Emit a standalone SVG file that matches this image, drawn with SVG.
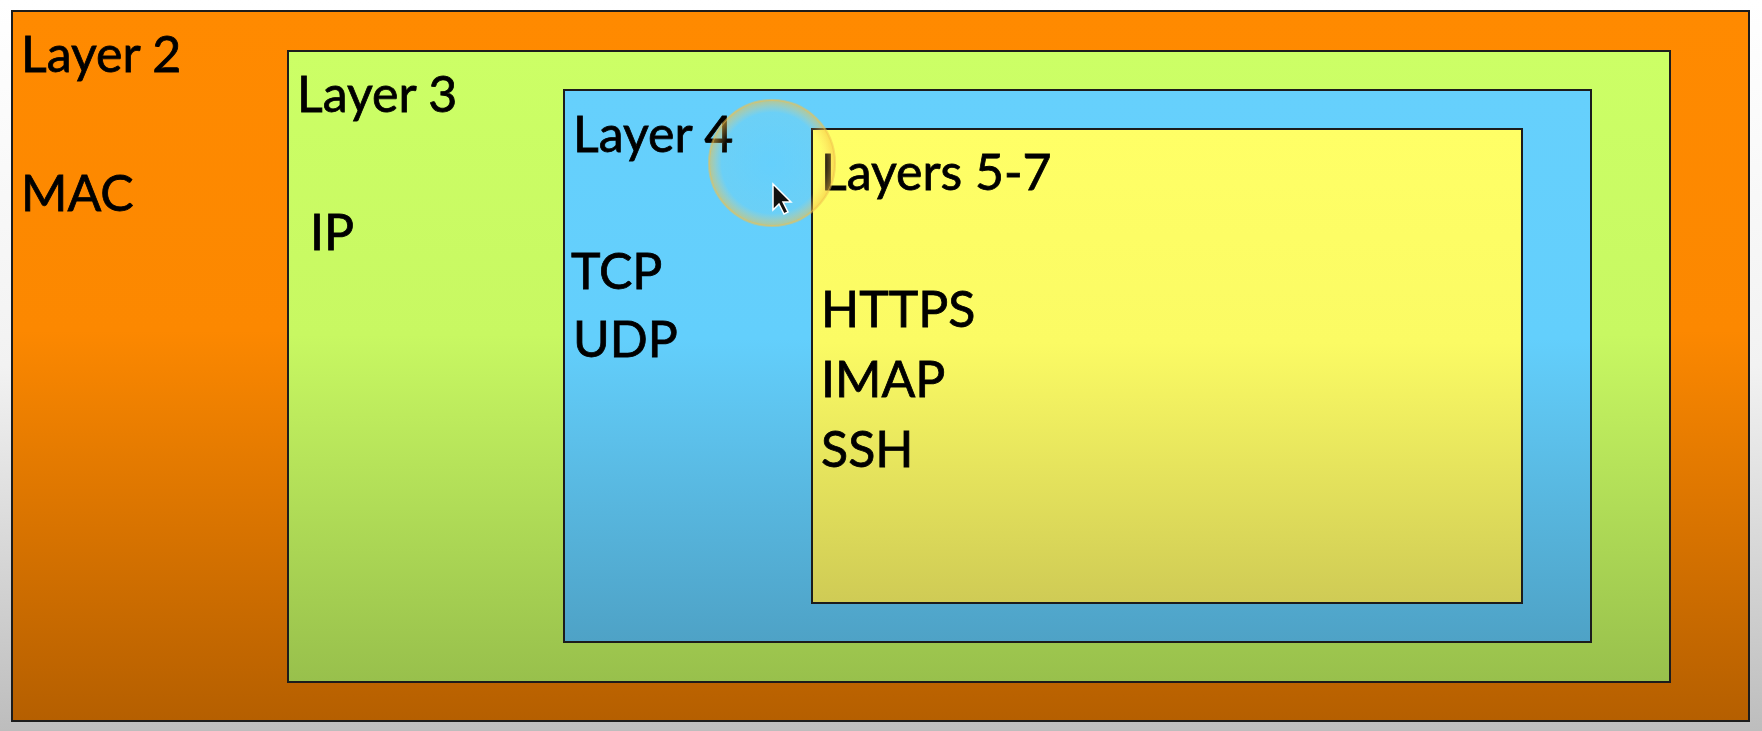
<svg xmlns="http://www.w3.org/2000/svg" width="1762" height="731" viewBox="0 0 1762 731">
<defs>
<linearGradient id="bg" x1="0" y1="0" x2="0" y2="1"><stop offset="0" stop-color="#ffffff"/><stop offset="0.5" stop-color="#f2f2f2"/><stop offset="1" stop-color="#bdbdbd"/></linearGradient>
<linearGradient id="gO" x1="0" y1="0" x2="0" y2="1"><stop offset="0" stop-color="#ff8a00"/><stop offset="0.45" stop-color="#fc8800"/><stop offset="1" stop-color="#b55f00"/></linearGradient>
<linearGradient id="gG" x1="0" y1="0" x2="0" y2="1"><stop offset="0" stop-color="#ccff66"/><stop offset="0.45" stop-color="#c8f862"/><stop offset="1" stop-color="#98c04c"/></linearGradient>
<linearGradient id="gB" x1="0" y1="0" x2="0" y2="1"><stop offset="0" stop-color="#66d0fc"/><stop offset="0.45" stop-color="#63cffc"/><stop offset="1" stop-color="#4ea2c6"/></linearGradient>
<linearGradient id="gY" x1="0" y1="0" x2="0" y2="1"><stop offset="0" stop-color="#ffff66"/><stop offset="0.45" stop-color="#fbfb64"/><stop offset="1" stop-color="#cfcb55"/></linearGradient>
<radialGradient id="gC" cx="0.5" cy="0.5" r="0.5"><stop offset="0" stop-color="#ffe080" stop-opacity="0"/><stop offset="0.8" stop-color="#ffd070" stop-opacity="0.04"/><stop offset="1" stop-color="#f5c040" stop-opacity="0.55"/></radialGradient>
</defs>
<style>
.box{stroke:#1c1c1c;stroke-width:2}
.t{font-family:Lato,"Open Sans",sans-serif;font-size:50px;fill:#000;stroke:#000;stroke-width:0.8}
</style>
<rect x="0" y="0" width="1762" height="731" fill="url(#bg)"/>
<g id="layer2">
<rect class="box" x="12" y="11" width="1737" height="710" fill="url(#gO)"/>
<text class="t" x="21" y="72">Layer 2</text>
<text class="t" x="21" y="211">MAC</text>
</g>
<g id="layer3">
<rect class="box" x="288" y="51" width="1382" height="631" fill="url(#gG)"/>
<text class="t" x="297" y="112">Layer 3</text>
<text class="t" x="310" y="250">IP</text>
</g>
<g id="layer4">
<rect class="box" x="564" y="90" width="1027" height="552" fill="url(#gB)"/>
<text class="t" x="573" y="152">Layer 4</text>
<text class="t" x="571" y="289">TCP</text>
<text class="t" x="573" y="357">UDP</text>
</g>
<g id="layers5-7">
<rect class="box" x="812" y="129" width="710" height="474" fill="url(#gY)"/>
<text class="t" x="821" y="190">Layers 5-7</text>
<text class="t" x="821" y="327">HTTPS</text>
<text class="t" x="821" y="397">IMAP</text>
<text class="t" x="821" y="467">SSH</text>
</g>
<g id="connectors"></g>
<g id="cursor">
<circle cx="772" cy="163" r="63" fill="url(#gC)" stroke="#f0c050" stroke-opacity="0.5" stroke-width="2"/>
<path d="M773 184 L773 210 L779 204 L784 214 L788 212 L783 202 L791 202 Z" fill="#111" stroke="#fff" stroke-width="1.5"/>
</g>
</svg>
